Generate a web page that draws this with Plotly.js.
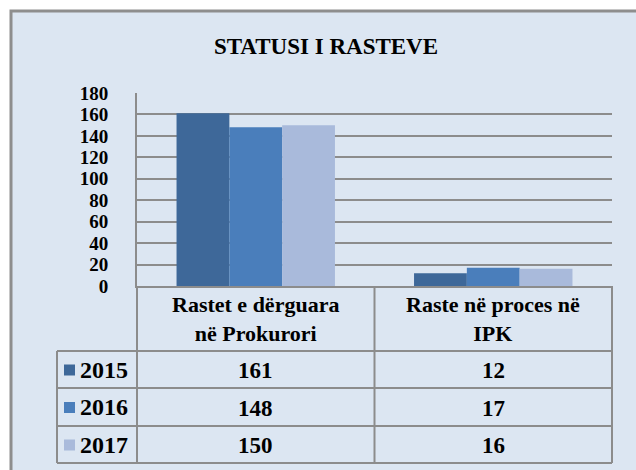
<!DOCTYPE html>
<html>
<head>
<meta charset="utf-8">
<script src="https://cdn.plot.ly/plotly-3.0.1.min.js"></script>
<style>html,body{margin:0;padding:0;background:#fff;}#chart{width:636px;height:470px;}</style>
</head>
<body>
<div id="chart"></div>
<script>
// ---- data ----
const categories = ["Rastet e dërguara<br>në Prokurori", "Raste në proces në<br>IPK"];
const seriesNames = ["2015", "2016", "2017"];
const values2015 = [161, 12];
const values2016 = [148, 17];
const values2017 = [150, 16];
const yTicks = [0, 20, 40, 60, 80, 100, 120, 140, 160, 180];
const chartTitle = "STATUSI I RASTEVE";

// ---- styles ----
const colors = ["#3e6899", "#4a7ebb", "#a9badb"];
const allValues = [values2015, values2016, values2017];
const FONT = "Liberation Serif";
const GRID = "#8c8c8c";
const BG = "#dce6f2";
const b = s => "<b>" + s + "</b>";

// layout geometry (pixels -> paper)
const L = 137, R = 24, T = 93, B = 184, W = 636, H = 470;
const pw = W - L - R, ph = H - T - B;
const px = x => (x - L) / pw;
const py = y => (H - B - y) / ph;

const traces = seriesNames.map((name, i) => ({
  type: "bar",
  name: name,
  x: categories,
  y: allValues[i],
  marker: {color: colors[i], line: {width: 0}},
  hoverinfo: "none"
}));

const shapes = [];
const annotations = [];

// outer chart frame with background
shapes.push({type: "rect", xref: "paper", yref: "paper", layer: "below",
  x0: px(11), x1: px(645), y0: py(11), y1: py(480),
  fillcolor: BG, line: {color: "#8e8e8e", width: 3}});

// table geometry
const rowLines = [351, 388, 426, 463];
const legendLeft = px(57);
const tableBottom = py(463);
[0, 0.5, 1].forEach(x => shapes.push({type: "line", xref: "paper", yref: "paper",
  x0: x, x1: x, y0: 0, y1: tableBottom, line: {color: GRID, width: 2}}));
shapes.push({type: "line", xref: "paper", yref: "paper",
  x0: legendLeft, x1: legendLeft, y0: py(rowLines[0]), y1: tableBottom, line: {color: GRID, width: 2}});
rowLines.forEach(y => shapes.push({type: "line", xref: "paper", yref: "paper",
  x0: legendLeft, x1: 1, y0: py(y), y1: py(y), line: {color: GRID, width: 2}}));

// header labels
categories.forEach(c => annotations.push({xref: "x", yref: "paper", x: c, y: py(319),
  text: b(c.replace("<br>", "</b><br><b>")), showarrow: false, xanchor: "center", yanchor: "middle",
  font: {family: FONT, size: 22, color: "#000"}}));

// rows
seriesNames.forEach((name, i) => {
  const yTop = rowLines[i], yBot = rowLines[i + 1];
  const yc = (yTop + yBot) / 2;
  shapes.push({type: "rect", xref: "paper", yref: "paper",
    x0: px(64), x1: px(75), y0: py(yc - 5), y1: py(yc + 6),
    fillcolor: colors[i], line: {width: 0}});
  annotations.push({xref: "paper", yref: "paper", x: px(78), y: py(yc),
    text: b(name), showarrow: false, xanchor: "left", yanchor: "middle",
    font: {family: FONT, size: 24, color: "#000"}});
  categories.forEach((c, j) => annotations.push({xref: "x", yref: "paper", x: c, y: py(yc + 1),
    text: b(String(allValues[i][j])), showarrow: false, xanchor: "center", yanchor: "middle",
    font: {family: FONT, size: 23, color: "#000"}}));
});

const layout = {
  width: W, height: H,
  margin: {l: L, r: R, t: T, b: B, pad: 0},
  paper_bgcolor: "#ffffff",
  plot_bgcolor: "rgba(0,0,0,0)",
  showlegend: false,
  barmode: "group",
  bargap: 0.333,
  bargroupgap: 0,
  title: {text: b(chartTitle), x: 326 / W, xanchor: "center", xref: "container",
    y: 1 - 46 / H, yanchor: "middle", yref: "container",
    font: {family: FONT, size: 23, color: "#000"}},
  xaxis: {type: "category", showticklabels: false, ticks: "", showgrid: false,
    showline: true, linecolor: GRID, linewidth: 2, zeroline: false, fixedrange: true},
  yaxis: {range: [0, 180], tickvals: yTicks, ticktext: yTicks.map(v => b(String(v))),
    showgrid: true, gridcolor: GRID, gridwidth: 2, showline: true, linecolor: GRID, linewidth: 2,
    zeroline: false, ticks: "", ticklabelstandoff: 23,
    tickfont: {family: FONT, size: 19, color: "#000"}, fixedrange: true},
  shapes: shapes,
  annotations: annotations
};

Plotly.newPlot("chart", traces, layout, {displayModeBar: false, staticPlot: true});
</script>
</body>
</html>
